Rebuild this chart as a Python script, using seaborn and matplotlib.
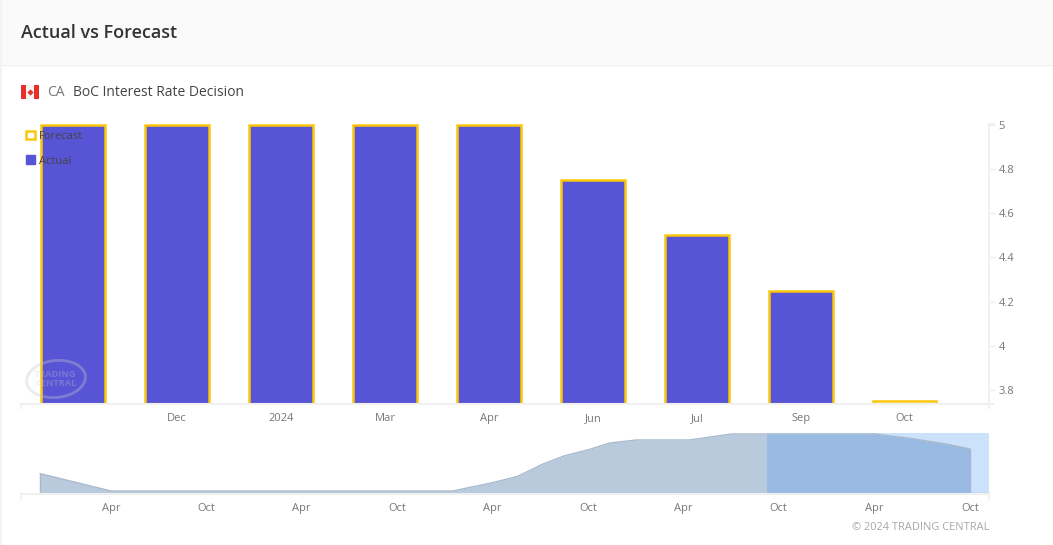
import matplotlib
matplotlib.use("Agg")
import matplotlib.pyplot as plt
import matplotlib.dates as mdates
from matplotlib.patches import Rectangle, Ellipse, Patch
import numpy as np
import pandas as pd
import seaborn as sns

# ---- data ----
release_months = ["2023-10", "2023-12", "2024-01", "2024-03", "2024-04", "2024-06", "2024-07", "2024-09", "2024-10"]
month_labels = ["", "Dec", "2024", "Mar", "Apr", "Jun", "Jul", "Sep", "Oct"]
forecast = [5, 5, 5, 5, 5, 4.75, 4.5, 4.25, 3.75]
actual = [5, 5, 5, 5, 5, 4.75, 4.5, 4.25, np.nan]
y_ticks = [3.8, 4, 4.2, 4.4, 4.6, 4.8, 5]
y_tick_labels = ["3.8", "4", "4.2", "4.4", "4.6", "4.8", "5"]

history_dates = ["2019-11-17", "2020-04-01", "2021-06-01", "2022-01-15", "2022-04-02", "2022-05-18",
                 "2022-07-07", "2022-08-18", "2022-10-03", "2022-11-12", "2023-01-02", "2023-04-13", "2023-07-03",
                 "2024-04-01", "2024-06-14", "2024-08-18", "2024-10-01"]
history_rate = [1.7, 0.25, 0.25, 0.25, 0.95, 1.45, 2.5, 3.2, 3.7, 4.25, 4.5, 4.5, 5,
                5, 4.6, 4.15, 3.75]
nav_tick_dates = ["2020-04-01", "2020-10-01", "2021-04-01", "2021-10-01", "2022-04-01", "2022-10-01",
                  "2023-04-01", "2023-10-01", "2024-04-01", "2024-10-01"]
nav_tick_labels = ["Apr", "Oct"] * 5
selection_start = "2023-09-08"

# ---- style ----
W, H = 1053, 545
GOLD, BLUE = "#fcc60a", "#5755d6"
AXIS, TEXT, TICK = "#f0f0f0", "#444444", "#777777"
sns.set_theme(style="white")
plt.rcParams["font.family"] = ["Open Sans", "DejaVu Sans"]
plt.rcParams["axes.unicode_minus"] = False


def px_axes(left, top, right, bottom):
    return [left / W, 1 - bottom / H, (right - left) / W, (bottom - top) / H]


fig = plt.figure(figsize=(W / 100, H / 100), dpi=100, facecolor="white")

# page furniture, in pixel coordinates
bg = fig.add_axes([0, 0, 1, 1], zorder=0)
bg.set_xlim(0, W); bg.set_ylim(H, 0); bg.axis("off")
bg.add_patch(Rectangle((0, 0), W, 64, fc="#fafafa", ec="none"))
bg.plot([0, W], [64.5, 64.5], color="#eeeeee", lw=1)
bg.plot([0.5, 0.5], [0, H], color="#f3f3f3", lw=1.5)
bg.text(21, 33.5, "Actual vs Forecast", fontsize=12.95, fontweight="semibold", color="#333333", va="center")
bg.add_patch(Rectangle((21, 85), 18, 14, fc="#f5f5f5", ec="none"))
bg.add_patch(Rectangle((21, 85), 5, 14, fc="#e8302a", ec="none"))
bg.add_patch(Rectangle((34, 85), 5, 14, fc="#e8302a", ec="none"))
bg.plot([30], [91.5], marker="D", ms=3.2, color="#e8302a", mew=0)
bg.text(47, 92.5, "CA", fontsize=10, color="#777777", va="center")
bg.text(73, 92.5, "BoC Interest Rate Decision", fontsize=10, color="#444444", va="center")

# main chart
ax = fig.add_axes(px_axes(21, 124, 989, 404), zorder=2)
ax.patch.set_alpha(0)
df = pd.DataFrame({"month": release_months, "forecast": forecast, "actual": actual})
sns.barplot(data=df, x="month", y="actual", color=BLUE, saturation=1, width=0.61, linewidth=0, ax=ax)
sns.barplot(data=df, x="month", y="forecast", color=GOLD, saturation=1, width=0.61, fill=False, linewidth=1.8, ax=ax)
ax.set_xlim(-0.5, 8.81)
ax.set_ylim(3.737, 5.004)
ax.set_xlabel(""); ax.set_ylabel("")
ax.set_xticks(range(1, len(month_labels)))
ax.set_xticklabels(month_labels[1:])
ax.yaxis.tick_right()
ax.set_yticks(y_ticks)
ax.set_yticklabels(y_tick_labels)
ax.tick_params(axis="x", length=3.6, width=1, color=AXIS, labelsize=8, labelcolor=TICK, pad=2.8)
ax.tick_params(axis="y", length=4.3, width=1, color=AXIS, labelsize=8, labelcolor=TICK, pad=2.6)
for s in ["top", "left"]:
    ax.spines[s].set_visible(False)
for s in ["right", "bottom"]:
    ax.spines[s].set_color(AXIS)
    ax.spines[s].set_linewidth(1.5)

leg = ax.legend(handles=[Patch(fc="white", ec=GOLD, lw=1.8, label="Forecast"), Patch(fc=BLUE, ec=BLUE, label="Actual")],
                loc="upper left", bbox_to_anchor=(23.5 / W, 1 - 128.5 / H), bbox_transform=fig.transFigure,
                frameon=False, fontsize=8, handlelength=0.8, handleheight=0.8, handletextpad=0.4,
                labelspacing=1.22, borderpad=0, borderaxespad=0.2, labelcolor=TEXT)

# foreground furniture
fg = fig.add_axes([0, 0, 1, 1], zorder=3)
fg.set_xlim(0, W); fg.set_ylim(H, 0); fg.axis("off"); fg.patch.set_alpha(0)
fg.add_patch(Ellipse((56, 379), 59, 37, angle=-6, fc="none", ec="#c8c8c8", lw=2.0, alpha=0.35))
fg.text(56, 379, "TRADING\nCENTRAL", fontsize=6.6, fontweight="bold", color="#c8c8c8", alpha=0.3,
        ha="center", va="center", linespacing=0.9)
for x0, x1, y0, y1 in [(21, 21, 404, 409), (989, 989, 404, 409), (989, 995, 404, 404), (989, 995, 124, 124),
                       (21, 21, 494, 500), (989, 989, 494, 500)]:
    fg.plot([x0, x1], [y0, y1], color=AXIS, lw=1.3, solid_capstyle="butt")
fg.text(989, 527, "\u00a9 2024 TRADING CENTRAL", fontsize=7.9, color="#a8a8a8", ha="right", va="center")

# navigator
nav = fig.add_axes(px_axes(21, 433, 989, 494), zorder=1)
nav.patch.set_alpha(0)
hist = pd.DataFrame({"date": pd.to_datetime(history_dates), "rate": history_rate})
sns.lineplot(data=hist, x="date", y="rate", color="#a8b9cd", lw=1, ax=nav)
nav.fill_between(hist["date"], hist["rate"], 0, color="#b9cadd", lw=0)
nav.plot([hist["date"].iloc[0]] * 2, [0, hist["rate"].iloc[0]], color="#a8b9cd", lw=1)
nav.plot([hist["date"].iloc[-1]] * 2, [0, hist["rate"].iloc[-1]], color="#a8b9cd", lw=1)
left = mdates.date2num(pd.Timestamp("2020-04-01")) - 90 / 0.5225
right = mdates.date2num(pd.Timestamp("2024-10-01")) + 19 / 0.5225
nav.set_xlim(left, right)
nav.set_ylim(0, 5.08)
nav.axvspan(pd.Timestamp(selection_start), mdates.num2date(right), color="#3d8df5", alpha=0.26, lw=0)
nav.plot([pd.Timestamp("2024-10-01"), mdates.num2date(right)], [0.1, 0.1], color="#8fb2dd", lw=1)
nav.set_xlabel(""); nav.set_ylabel("")
nav.set_yticks([])
nav.set_xticks(pd.to_datetime(nav_tick_dates))
nav.set_xticklabels(nav_tick_labels)
nav.tick_params(axis="x", length=4.3, width=1, color=AXIS, labelsize=8, labelcolor=TICK, pad=2.4)
for s in ["top", "left", "right"]:
    nav.spines[s].set_visible(False)
nav.spines["bottom"].set_color(AXIS)
nav.spines["bottom"].set_linewidth(1.5)

fig.savefig("out.png", dpi=100, facecolor="white")
